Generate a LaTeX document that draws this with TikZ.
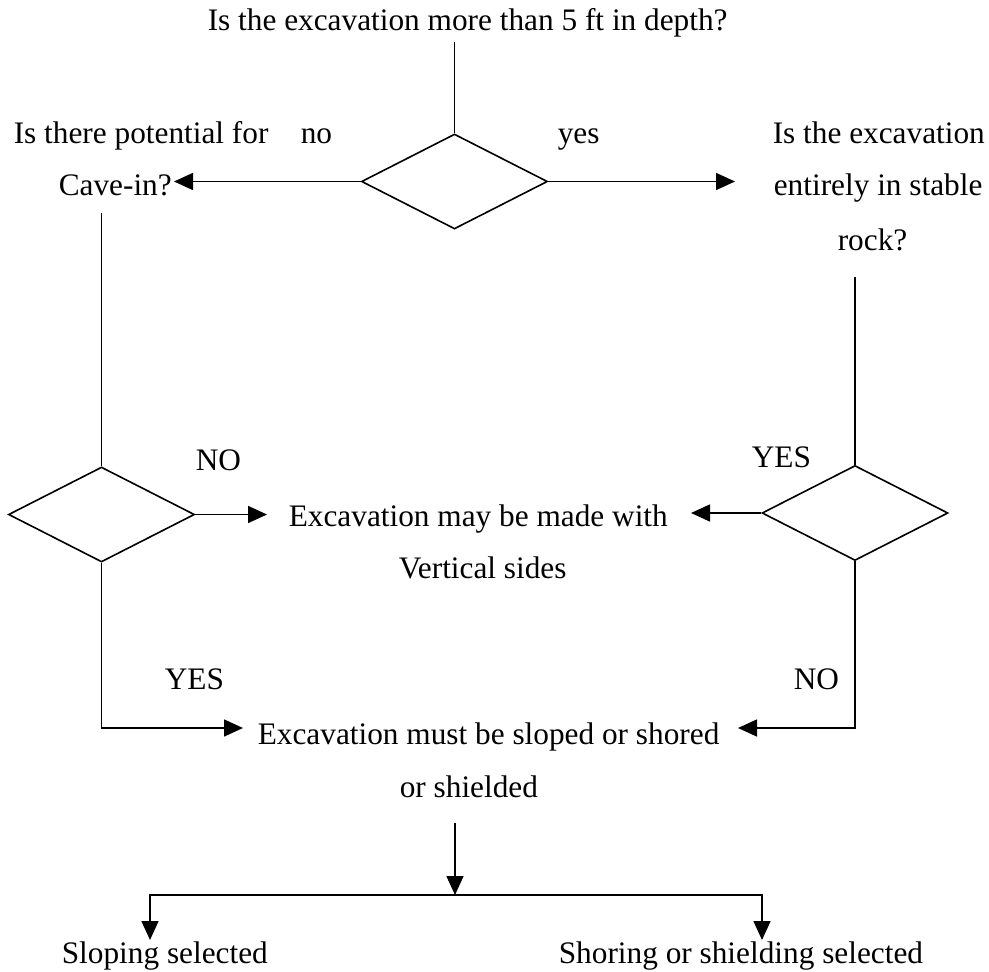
\documentclass[tikz,border=0pt]{standalone}
\usepackage{fontspec}
\setmainfont{Liberation Serif}
\usetikzlibrary{shapes.geometric,arrows.meta}
\begin{document}
\begin{tikzpicture}[x=1pt,y=-1pt,
  line width=1.6pt,
  txt/.style={inner sep=0pt,anchor=base west,font=\fontsize{31.3}{53}\selectfont},
  decision/.style={draw,shape=diamond,minimum width=186pt,minimum height=95pt,inner sep=0pt},
  flow/.style={-{Triangle[length=19pt,width=17pt]}}]
\useasboundingbox (0,0) rectangle (989,972);

% questions and outcomes
\node[txt] (q1) at (207,30) {Is the excavation more than 5 ft in depth?};
\node[txt] (pot) at (13,143) {Is there potential for};
\node[txt] (no1) at (300,143) {no};
\node[txt] (cave) at (58,195) {Cave-in?};
\node[txt] (yes1) at (557,143) {yes};
\node[txt] (rock1) at (772,143) {Is the excavation};
\node[txt] (rock2) at (773,195) {entirely in stable};
\node[txt] (rock3) at (837,250) {rock?};
\node[txt] (no2) at (195,470) {NO};
\node[txt] (yes2) at (751,467) {YES};
\node[txt] (vert1) at (288,526) {Excavation may be made with};
\node[txt] (vert2) at (398,578) {Vertical sides};
\node[txt] (yes3) at (164,689) {YES};
\node[txt] (no3) at (793,689) {NO};
\node[txt] (must1) at (257,744) {Excavation must be sloped or shored};
\node[txt] (must2) at (399,797) {or shielded};
\node[txt] (slope) at (61,963) {Sloping selected};
\node[txt] (shore) at (558,963) {Shoring or shielding selected};

% decision diamonds
\node[decision] (d1) at (454.5,181.5) {};
\node[decision] (d2) at (101.5,514.5) {};
\node[decision] (d3) at (855,513) {};

% connector ends
\coordinate (q1foot) at (454.5,42);
\coordinate (cavetip) at (174,181.5);
\coordinate (righttip) at (735,181.5);
\coordinate (rockfoot) at (855,277);
\coordinate (cavefoot) at (101.5,213);
\coordinate (vtipL) at (267,514.5);
\coordinate (vtipR) at (691,513);
\coordinate (mtipL) at (243,728);
\coordinate (mtipR) at (738,728);
\coordinate (mfoot) at (455,823);
\coordinate (split) at (455,895);
\coordinate (slopetip) at (150,940);
\coordinate (shoretip) at (762,940);

% connectors
\draw (q1foot) -- (d1.north);
\draw[flow] (d1.west) -- (cavetip);
\draw[flow] (d1.east) -- (righttip);
\draw (cavefoot) -- (d2.north);
\draw (rockfoot) -- (d3.north);
\draw[flow] (d2.east) -- (vtipL);
\draw[flow] (d3.west) -- (vtipR);
\draw[flow] (d2.south) |- (mtipL);
\draw[flow] (d3.south) |- (mtipR);
\draw[flow] (mfoot) -- (split);
\draw[flow] (split) -| (slopetip);
\draw[flow] (split) -| (shoretip);
\end{tikzpicture}
\end{document}
